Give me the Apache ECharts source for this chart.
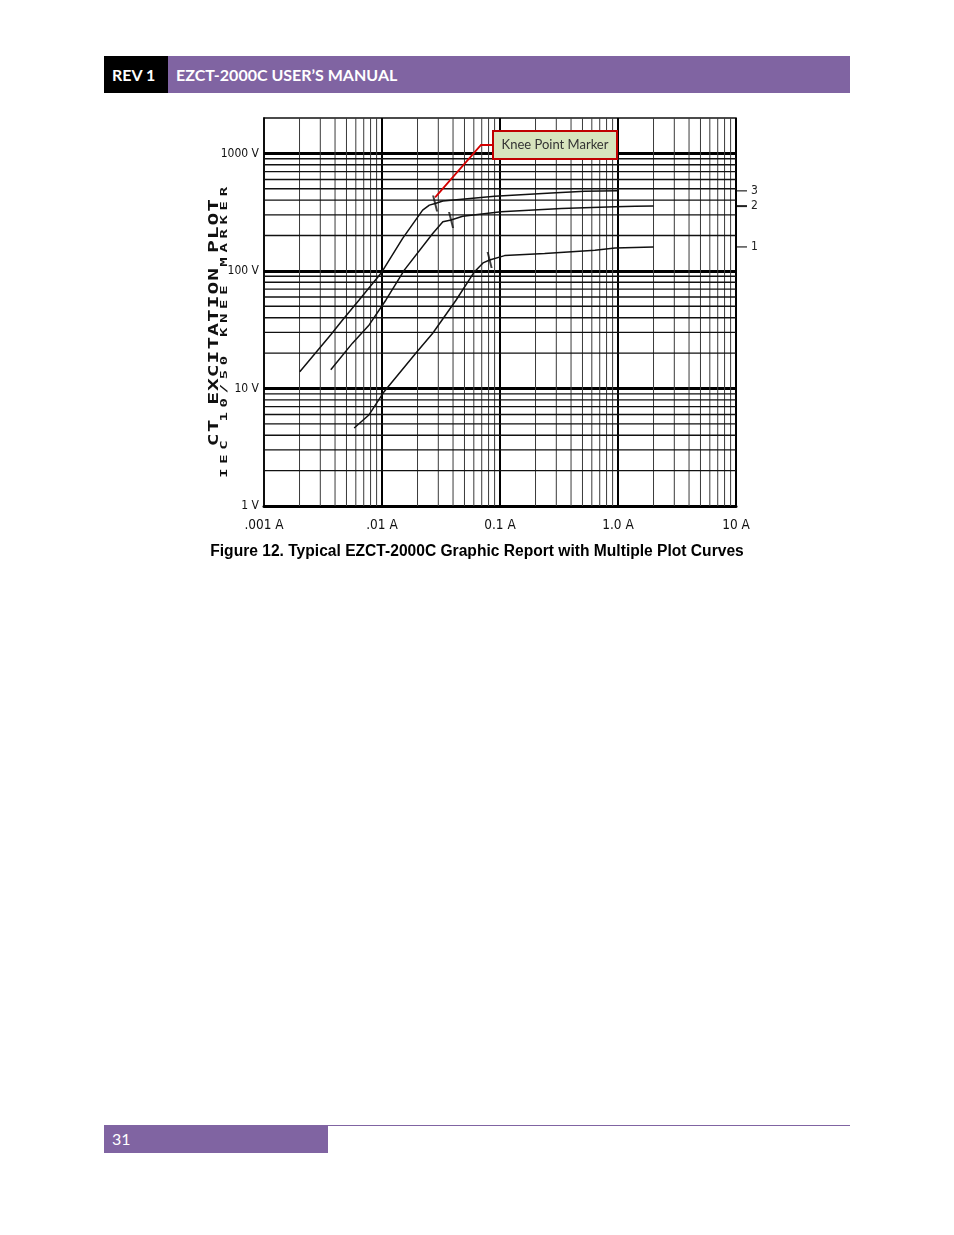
<!DOCTYPE html>
<html>
<head>
<meta charset="utf-8">
<script src="https://cdn.jsdelivr.net/npm/echarts@6/dist/echarts.min.js"></script>
<style>
html,body{margin:0;padding:0;background:#fff;}
#page{position:relative;width:954px;height:1235px;overflow:hidden;background:#fff;}
#chart{position:absolute;left:0;top:0;width:954px;height:1235px;}
.box{position:absolute;}
.hdr{position:absolute;top:56px;height:37px;line-height:37px;color:#fff;font-family:Lato,'Open Sans',sans-serif;font-weight:bold;font-size:16px;white-space:nowrap;}
.vt{position:absolute;white-space:nowrap;text-align:center;font-family:'DejaVu Sans Mono','Liberation Mono',monospace;color:#111;transform-origin:50% 50%;}
</style>
</head>
<body>
<div id="page">
  <div id="chart"></div>
  <div class="box" style="left:104px;top:56px;width:64px;height:37px;background:#000;"></div>
  <div class="box" style="left:168px;top:56px;width:682px;height:37px;background:#8064a2;"></div>
  <div class="hdr" style="left:112px;">REV 1</div>
  <div class="hdr" style="left:176px;">EZCT-2000C USER’S MANUAL</div>
  <div class="vt" id="t1" style="left:90px;top:312px;width:245px;height:20px;line-height:20px;font-size:17px;font-weight:bold;letter-spacing:0.8px;transform:rotate(-90deg) scale(1.25,0.87);">CT EXCITATION PLOT</div>
  <div class="vt" id="t2" style="left:78.5px;top:323px;width:290px;height:14px;line-height:14px;font-size:12px;font-weight:bold;letter-spacing:3.6px;transform:rotate(-90deg) scale(1.3,0.75);">IEC 10/50 KNEE MARKER</div>
  <div class="box" style="left:104px;top:1125px;width:746px;height:1px;background:#8064a2;"></div>
  <div class="box" style="left:104px;top:1126px;width:224px;height:27px;background:#8064a2;"></div>
  <div class="hdr" style="left:112px;top:1126px;height:27px;line-height:25px;font-weight:normal;font-size:16px;">31</div>
</div>
<script>
// ---- data ----
const xTickValues = [0.001, 0.01, 0.1, 1, 10];
const xTickLabels = ['.001 A', '.01 A', '0.1 A', '1.0 A', '10 A'];
const yTickValues = [1, 10, 100, 1000];
const yTickLabels = ['1 V', '10 V', '100 V', '1000 V'];
const xMinorGrid = [0.002,0.003,0.004,0.005,0.006,0.007,0.008,0.009,
                    0.02,0.03,0.04,0.05,0.06,0.07,0.08,0.09,
                    0.2,0.3,0.4,0.5,0.6,0.7,0.8,0.9,
                    2,3,4,5,6,7,8,9];
const yMinorGrid = [2,3,4,5,6,7,8,9,20,30,40,50,60,70,80,90,200,300,400,500,600,700,800,900];

const curveNames = ['1', '2', '3'];
const curve1Amps  = [0.00581, 0.00778, 0.01045, 0.0194, 0.0269, 0.0425, 0.0608, 0.0718, 0.0817, 0.1094, 0.239, 0.637, 0.944, 2.0];
const curve1Volts = [4.61, 5.98, 9.43, 20, 29.5, 56.6, 98.5, 117, 124, 135, 141, 150, 157, 160];
const curve2Amps  = [0.00368, 0.00562, 0.00778, 0.0108, 0.0155, 0.0269, 0.0328, 0.0385, 0.0483, 0.102, 0.332, 0.944, 1.4, 2.0];
const curve2Volts = [14.4, 24.3, 34.7, 56.6, 102, 208, 262, 271, 292, 318, 340, 351, 355, 356];
const curve3Amps  = [0.00201, 0.00368, 0.00463, 0.0064, 0.0098, 0.01496, 0.0221, 0.0252, 0.0282, 0.0328, 0.09, 0.273, 0.524, 0.993];
const curve3Volts = [13.9, 28.6, 38.3, 56.6, 95.4, 189, 329, 363, 375, 394, 432, 461, 477, 480];
const kneeAmps  = [0.0817, 0.0385, 0.0282];
const kneeVolts = [124, 271, 375];
const annotationText = 'Knee Point Marker';
const captionText = 'Figure 12. Typical EZCT-2000C Graphic Report with Multiple Plot Curves';

// ---- build ----
const zip = (a, b) => a.map((v, i) => [v, b[i]]);
const curves = [zip(curve1Amps, curve1Volts), zip(curve2Amps, curve2Volts), zip(curve3Amps, curve3Volts)];
const labelFor = (vals, labels) => (v) => {
  for (let i = 0; i < vals.length; i++) {
    if (Math.abs(Math.log10(v) - Math.log10(vals[i])) < 1e-6) return labels[i];
  }
  return '';
};
const narrow = "'DejaVu Sans Condensed','Liberation Sans Narrow','Arial Narrow',sans-serif";

const chart = echarts.init(document.getElementById('chart'), null, {renderer: 'canvas'});
const series = [];
// minor vertical grid lines (through the x scale)
series.push({
  name: 'gridMinorX', type: 'custom', silent: true, z: 1, animation: false,
  data: xMinorGrid.map(v => [v, yTickValues[0]]),
  renderItem: (params, api) => {
    const p = api.coord([api.value(0), api.value(1)]);
    const cs = params.coordSys;
    return {type: 'line', shape: {x1: p[0], y1: cs.y, x2: p[0], y2: cs.y + cs.height},
            style: {stroke: '#3a3a3a', lineWidth: 1}};
  }
});
// minor horizontal grid lines (through the y scale)
series.push({
  name: 'gridMinorY', type: 'custom', silent: true, z: 1, animation: false,
  data: yMinorGrid.map(v => [xTickValues[0], v]),
  renderItem: (params, api) => {
    const p = api.coord([api.value(0), api.value(1)]);
    const cs = params.coordSys;
    return {type: 'line', shape: {x1: cs.x, y1: p[1], x2: cs.x + cs.width, y2: p[1]},
            style: {stroke: '#111', lineWidth: 1.4}};
  }
});
curves.forEach((c, i) => {
  series.push({
    name: curveNames[i], type: 'line', data: c, showSymbol: false, z: 3,
    lineStyle: {color: '#111', width: 1.5}, smooth: false, animation: false
  });
});
series.push({
  name: 'knee', type: 'scatter', z: 4, animation: false,
  data: zip(kneeAmps, kneeVolts),
  symbol: 'path://M0,0 L2,0 L6,16 L4,16 Z', symbolSize: [6, 16],
  itemStyle: {color: '#111'}
});

chart.setOption({
  animation: false,
  backgroundColor: 'transparent',
  title: {
    text: captionText, left: 'center', top: 539,
    textStyle: {fontFamily: "'Liberation Sans', Arial, sans-serif", fontWeight: 'bold', fontSize: 15.6, color: '#000'}
  },
  grid: {left: 264, top: 118, width: 472, height: 388, show: true, borderColor: '#111', borderWidth: 1.5, backgroundColor: '#fff'},
  xAxis: {
    type: 'log', logBase: 10, min: 0.001, max: 10,
    axisLine: {show: true, onZero: false, lineStyle: {color: '#000', width: 3}},
    axisTick: {show: false},
    splitLine: {show: true, showMinLine: false, lineStyle: {color: '#000', width: 2}},
    axisLabel: {formatter: labelFor(xTickValues, xTickLabels), margin: 12, fontFamily: narrow, fontSize: 13.5, color: '#111'}
  },
  yAxis: {
    type: 'log', logBase: 10, min: 1, max: 2000,
    axisLine: {show: true, onZero: false, lineStyle: {color: '#000', width: 1.6}},
    axisTick: {show: false},
    splitLine: {show: true, showMinLine: false, showMaxLine: false, lineStyle: {color: '#000', width: 3}},
    axisLabel: {formatter: labelFor(yTickValues, yTickLabels), margin: 5, fontFamily: narrow, fontSize: 12, color: '#111', padding: [0, 0, 5, 0]}
  },
  series: series
});

// ---- annotations tied to data ----
const gfx = [];
const rightEdge = chart.convertToPixel({gridIndex: 0}, [xTickValues[xTickValues.length - 1], 1])[0];
curves.forEach((c, i) => {
  const y = chart.convertToPixel({gridIndex: 0}, [10, c[c.length - 1][1]])[1];
  gfx.push({type: 'line', shape: {x1: rightEdge + 1, y1: y, x2: rightEdge + 11, y2: y}, style: {stroke: '#222', lineWidth: i === 1 ? 2 : 1.2}, silent: true});
  gfx.push({type: 'text', x: rightEdge + 15, y: y, style: {text: curveNames[i], fill: '#222', font: '12px ' + narrow, textVerticalAlign: 'middle'}, silent: true});
});
const kp = chart.convertToPixel({gridIndex: 0}, [kneeAmps[2], kneeVolts[2]]);
const boxX = 493, boxY = 131, boxW = 124, boxH = 28;
gfx.push({type: 'polyline', shape: {points: [[kp[0], kp[1] - 6], [481, boxY + boxH / 2], [boxX, boxY + boxH / 2]]}, style: {stroke: '#d40000', lineWidth: 1.8, fill: null}, silent: true, z: 10});
gfx.push({type: 'rect', shape: {x: boxX, y: boxY, width: boxW, height: boxH}, style: {fill: '#d7e4bd', stroke: '#c00000', lineWidth: 2}, silent: true, z: 10});
gfx.push({type: 'text', x: boxX + boxW / 2, y: boxY + boxH / 2, style: {text: annotationText, fill: '#333', font: "13px Lato, 'Open Sans', sans-serif", textAlign: 'center', textVerticalAlign: 'middle'}, silent: true, z: 11});
chart.setOption({graphic: gfx});
</script>
</body>
</html>
